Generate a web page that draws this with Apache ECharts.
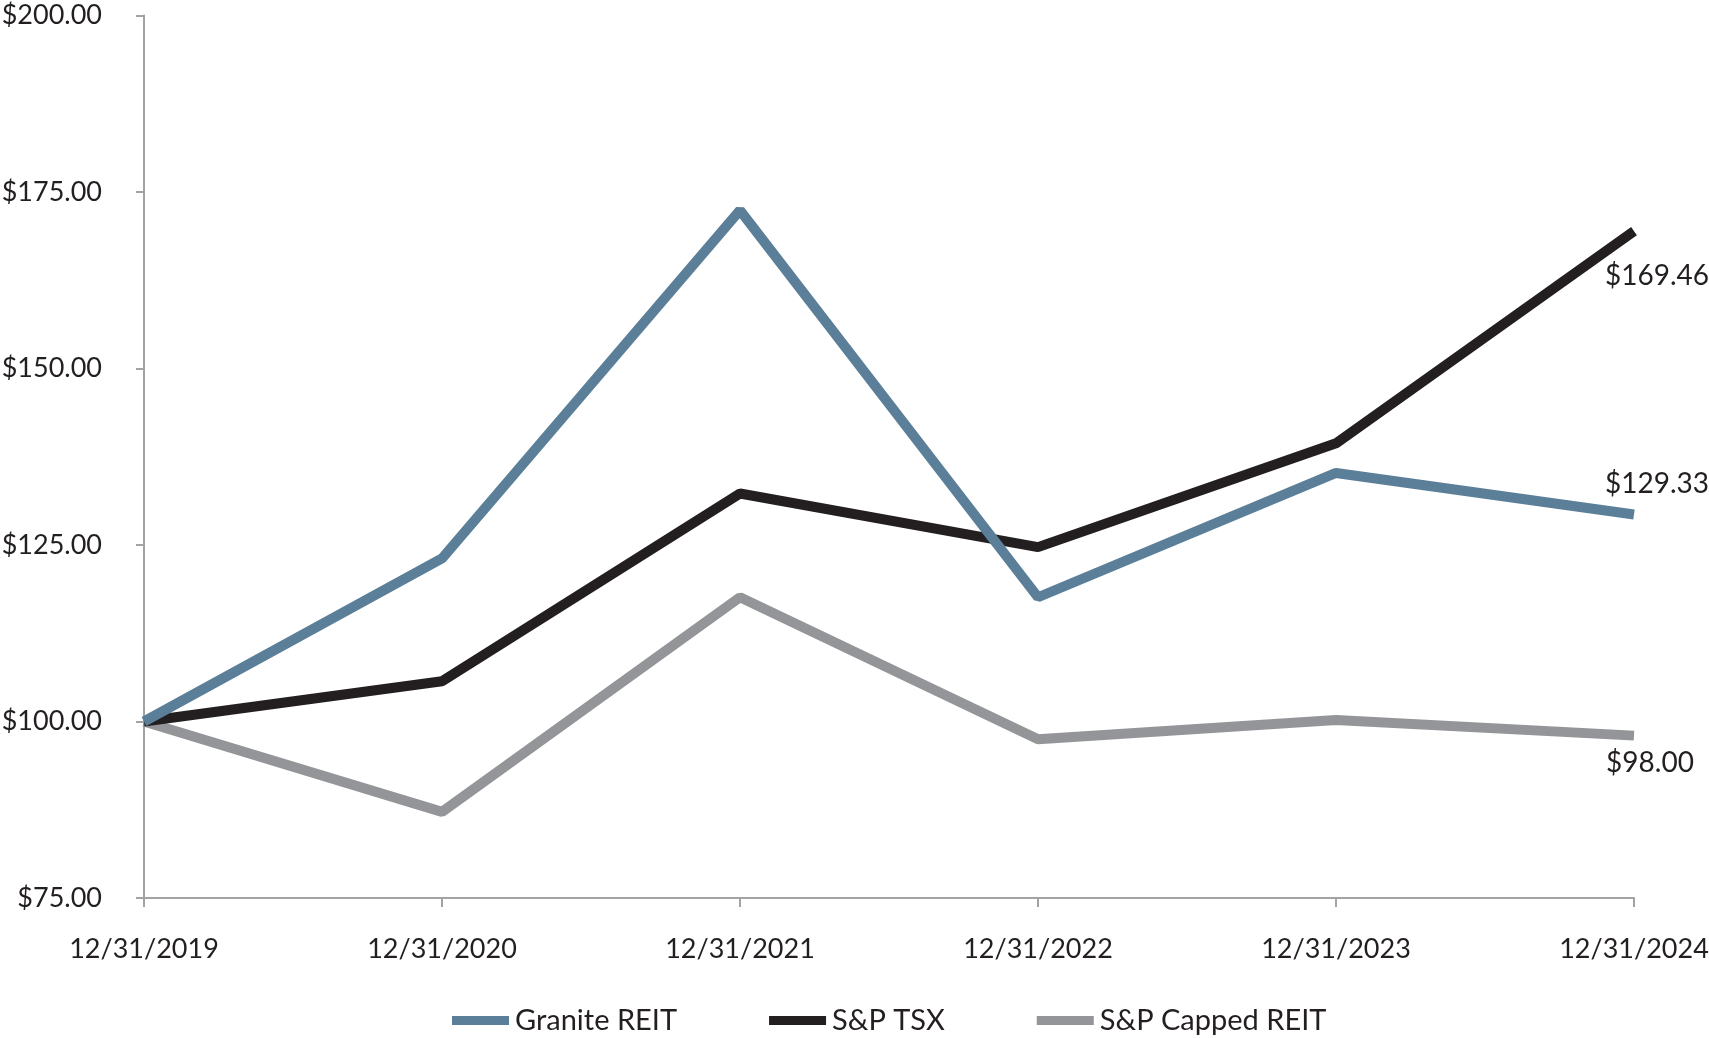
<!DOCTYPE html>
<html><head><meta charset="utf-8">
<script src="https://cdn.jsdelivr.net/npm/echarts@6/dist/echarts.min.js"></script>
<style>html,body{margin:0;padding:0;background:#fff}#c{width:1709px;height:1038px}</style>
</head><body><div id="c"></div>
<script>
const categories = ['12/31/2019','12/31/2020','12/31/2021','12/31/2022','12/31/2023','12/31/2024'];
const graniteREIT = [100.00, 123.1, 172.4, 117.6, 135.2, 129.33];
const spTSX = [100.00, 105.7, 132.3, 124.7, 139.4, 169.46];
const spCappedREIT = [100.00, 87.2, 117.6, 97.5, 100.2, 98.00];
const yTicks = {min: 75, max: 200, interval: 25};

const FONT = 'Lato';
const TXT = '#231f20';
function withEndLabel(arr, offset) {
  return arr.map((v, i) => i === arr.length - 1
    ? {value: v, label: {show: true, position: 'inside', offset: offset,
        formatter: p => '$' + p.value.toFixed(2), color: TXT, fontSize: 28, fontFamily: FONT}}
    : v);
}
const chart = echarts.init(document.getElementById('c'));
chart.setOption({
  animation: false,
  grid: {left: 144, right: 75, top: 15.5, bottom: 140, containLabel: false, outerBoundsMode: 'none'},
  legend: {
    top: 1006, left: 452, padding: 0, itemGap: 92, itemWidth: 57, itemHeight: 9,
    icon: 'rect',
    textStyle: {fontFamily: FONT, fontSize: 29, color: TXT, padding: [0,0,0,1]},
    data: ['Granite REIT', 'S&P TSX', 'S&P Capped REIT']
  },
  xAxis: {
    type: 'category', data: categories, boundaryGap: false,
    axisLine: {lineStyle: {color: '#a3a3a3', width: 2}},
    axisTick: {show: true, length: 9, alignWithLabel: true, lineStyle: {color: '#a3a3a3', width: 2}},
    axisLabel: {margin: 38, fontFamily: FONT, fontSize: 27, color: TXT, interval: 0}
  },
  yAxis: {
    type: 'value', min: yTicks.min, max: yTicks.max, interval: yTicks.interval,
    splitLine: {show: false},
    axisLine: {show: true, lineStyle: {color: '#a3a3a3', width: 2}},
    axisTick: {show: true, length: 8, lineStyle: {color: '#a3a3a3', width: 2}},
    axisLabel: {margin: 42, fontFamily: FONT, fontSize: 27, color: TXT,
      formatter: v => '$' + v.toFixed(2)}
  },
  series: [
    {name: 'Granite REIT', type: 'line', data: withEndLabel(graniteREIT, [23, -30]),
     symbol: 'circle', symbolSize: 0, showSymbol: true, z: 3,
     lineStyle: {color: '#5b7f99', width: 10}, itemStyle: {color: '#5b7f99'}},
    {name: 'S&P TSX', type: 'line', data: withEndLabel(spTSX, [23, 45]),
     symbol: 'circle', symbolSize: 0, showSymbol: true, z: 2,
     lineStyle: {color: '#231f20', width: 10}, itemStyle: {color: '#231f20'}},
    {name: 'S&P Capped REIT', type: 'line', data: withEndLabel(spCappedREIT, [16, 27]),
     symbol: 'circle', symbolSize: 0, showSymbol: true, z: 1,
     lineStyle: {color: '#939598', width: 10}, itemStyle: {color: '#939598'}}
  ]
});
</script></body></html>
